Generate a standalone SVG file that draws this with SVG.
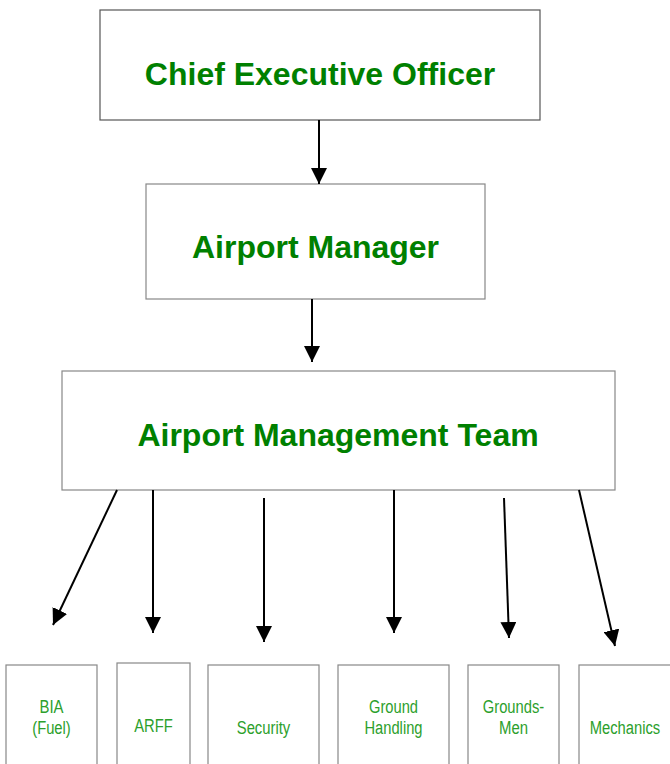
<svg xmlns="http://www.w3.org/2000/svg" width="670" height="764" viewBox="0 0 670 764">
<style>
.box{fill:#fff;stroke:#888;stroke-width:1.2}
.top{stroke:#555}
.big{font-family:"Liberation Sans",Arial,sans-serif;font-weight:bold;font-size:32px;fill:#008000;text-anchor:middle}
.small{font-family:"Liberation Sans",Arial,sans-serif;font-size:18px;fill:#2ca02c;text-anchor:middle}
.conn line{stroke:#000;stroke-width:2;marker-end:url(#ah)}
</style>
<defs>
<marker id="ah" markerUnits="userSpaceOnUse" markerWidth="16" markerHeight="16" refX="16" refY="8" orient="auto" viewBox="0 0 16 16">
<path d="M0,0 L16,8 L0,16 z" fill="#000"/>
</marker>
</defs>
<rect width="670" height="764" fill="#fff"/>
<g id="ceo"><rect class="box top" x="100" y="10" width="440" height="110"/><text class="big" x="320" y="85">Chief Executive Officer</text></g>
<g id="manager"><rect class="box" x="146" y="184" width="339" height="115"/><text class="big" x="315.5" y="258">Airport Manager</text></g>
<g id="team"><rect class="box" x="62" y="371" width="553" height="119"/><text class="big" x="338" y="446">Airport Management Team</text></g>
<g id="bia"><rect class="box" x="6" y="665" width="91" height="110"/><text class="small" x="51.5" y="713" textLength="24" lengthAdjust="spacingAndGlyphs">BIA</text><text class="small" x="51.5" y="734" textLength="38.5" lengthAdjust="spacingAndGlyphs">(Fuel)</text></g>
<g id="arff"><rect class="box" x="117" y="663" width="73" height="112"/><text class="small" x="153.5" y="732" textLength="38.5" lengthAdjust="spacingAndGlyphs">ARFF</text></g>
<g id="security"><rect class="box" x="208" y="665" width="111" height="110"/><text class="small" x="263.5" y="734" textLength="53.5" lengthAdjust="spacingAndGlyphs">Security</text></g>
<g id="ground-handling"><rect class="box" x="338" y="665" width="111" height="110"/><text class="small" x="393.5" y="713" textLength="49" lengthAdjust="spacingAndGlyphs">Ground</text><text class="small" x="393.5" y="734" textLength="58" lengthAdjust="spacingAndGlyphs">Handling</text></g>
<g id="grounds-men"><rect class="box" x="468" y="665" width="91" height="110"/><text class="small" x="513.5" y="713" textLength="61.5" lengthAdjust="spacingAndGlyphs">Grounds-</text><text class="small" x="513.5" y="734" textLength="29" lengthAdjust="spacingAndGlyphs">Men</text></g>
<g id="mechanics"><rect class="box" x="579" y="665" width="100" height="110"/><text class="small" x="625" y="734" textLength="70.5" lengthAdjust="spacingAndGlyphs">Mechanics</text></g>
<g id="connectors" class="conn">
<line x1="319" y1="120" x2="319" y2="184"/>
<line x1="312" y1="299" x2="312" y2="362"/>
<line x1="117" y1="490" x2="53" y2="625"/>
<line x1="153" y1="490" x2="153" y2="633"/>
<line x1="264" y1="498" x2="264" y2="642"/>
<line x1="394" y1="490" x2="394" y2="633"/>
<line x1="504" y1="498" x2="509" y2="638"/>
<line x1="579" y1="490" x2="615" y2="646"/>
</g>
</svg>
